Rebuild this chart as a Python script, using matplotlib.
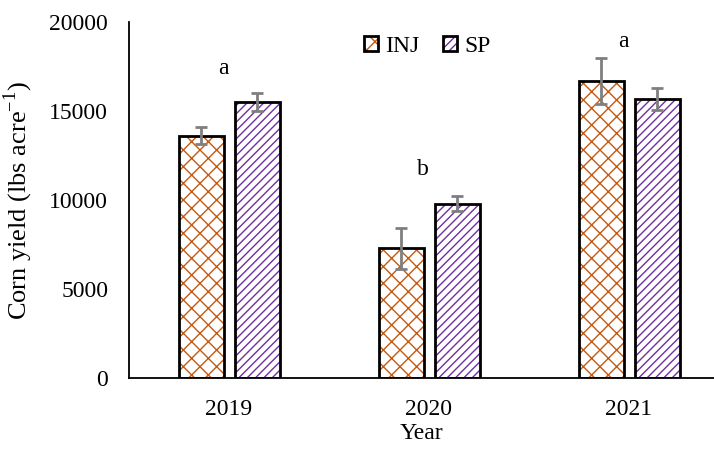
import matplotlib.pyplot as plt
import numpy as np

years = ['2019', '2020', '2021']
inj = [13600, 7300, 16700]
sp = [15500, 9800, 15700]
inj_err = [480, 1150, 1280]
sp_err = [520, 430, 620]
letters = ['a', 'b', 'a']
letter_y = [17400, 11700, 18900]

plt.rcParams['font.family'] = ['Liberation Serif', 'DejaVu Serif']
plt.rcParams['mathtext.fontset'] = 'custom'
plt.rcParams['mathtext.rm'] = 'Liberation Serif'
plt.rcParams['hatch.linewidth'] = 1.0

fig = plt.figure(figsize=(7.14, 4.49), dpi=100)
ax = fig.add_axes([129 / 714, 1 - 378 / 449, 585 / 714, 356 / 449])

x = np.arange(len(years))
w = 0.225
off = 0.14

b1 = ax.bar(x - off, inj, w, color='white', edgecolor='black', linewidth=2,
            hatch='xx', label='INJ')
for b in b1:
    b._hatch_color = (0.77, 0.35, 0.07, 1.0)
b2 = ax.bar(x + off, sp, w, color='white', edgecolor='black', linewidth=2,
            hatch='////', label='SP')
for b in b2:
    b._hatch_color = (0.44, 0.19, 0.63, 1.0)

ax.errorbar(x - off, inj, yerr=inj_err, fmt='none', ecolor='#7f7f7f',
            elinewidth=2, capsize=4, capthick=2)
ax.errorbar(x + off, sp, yerr=sp_err, fmt='none', ecolor='#7f7f7f',
            elinewidth=2, capsize=4, capthick=2)

for i, t in enumerate(letters):
    ax.text(x[i] - 0.03, letter_y[i], t, ha='center', va='center', fontsize=17)

ax.set_xlim(-0.5, 2.425)
ax.set_ylim(0, 20000)
ax.set_yticks([0, 5000, 10000, 15000, 20000])
ax.set_xticks(x)
ax.set_xticklabels(years)
ax.tick_params(length=0, labelsize=17, pad=15)
ax.tick_params(axis='y', pad=15)
for s in ['top', 'right']:
    ax.spines[s].set_visible(False)
ax.spines['left'].set_linewidth(1.3)
ax.spines['bottom'].set_linewidth(1.3)

ax.set_xlabel('Year', fontsize=17, labelpad=2)
ax.set_ylabel(r'Corn yield (lbs acre$^{\mathregular{-1}}$)', fontsize=19, labelpad=10)

ax.legend(loc='upper left', bbox_to_anchor=(0.365, 1.02), ncol=2, frameon=False,
          fontsize=17, handlelength=0.6, handleheight=0.6, columnspacing=1.0,
          handletextpad=0.3)

fig.savefig('out.png', dpi=100)
